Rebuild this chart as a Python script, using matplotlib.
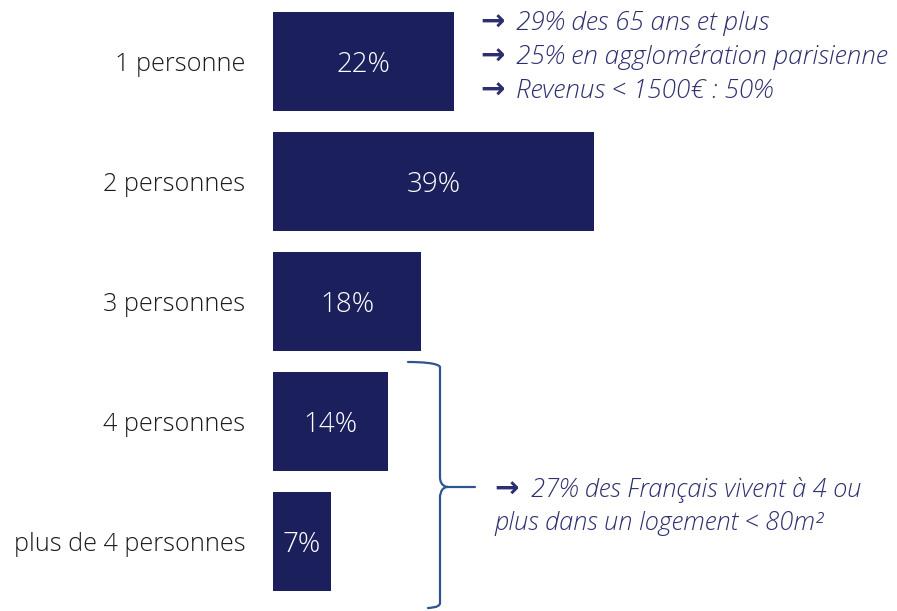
import matplotlib.pyplot as plt
from matplotlib.path import Path
from matplotlib.patches import PathPatch

# Taille des ménages (part des Français)
categories = ["1 personne", "2 personnes", "3 personnes", "4 personnes", "plus de 4 personnes"]
valeurs = [22, 39, 18, 14, 7]
etiquettes = ["22%", "39%", "18%", "14%", "7%"]

notes_haut = ["29% des 65 ans et plus",
              "25% en agglomération parisienne",
              "Revenus < 1500€ : 50%"]
note_bas = ["27% des Français vivent à 4 ou", "plus dans un logement < 80m²"]

BLEU = "#1b1f5c"
TEXTE = "#2b2f6e"
ACCOLADE = "#2f5590"

plt.rcParams['font.family'] = ['Open Sans', 'DejaVu Sans']

W, H = 897, 611
fig = plt.figure(figsize=(W / 100, H / 100), dpi=100)
x0 = 273
ax = fig.add_axes([x0 / W, 0, 1 - x0 / W, 1])

pos = list(range(len(categories)))
ax.barh(pos, valeurs, height=0.825, color=BLEU)
for p, v, e in zip(pos, valeurs, etiquettes):
    ax.text(v / 2, p + 0.03, e, color="white", ha="center", va="center",
            fontsize=20, fontweight="light")

ax.set_xlim(0, (W - x0) / 8.23)
ax.set_ylim(4 + (H - 541.5) / 120, -61.5 / 120)
ax.set_yticks(pos)
ax.set_yticklabels(categories, fontsize=18.2, fontweight="light", color="#1a1a1a")
ax.tick_params(axis="y", length=0, pad=20)
ax.set_xticks([])
for s in ax.spines.values():
    s.set_visible(False)


def px(x, y):
    return (x / W, 1 - y / H)


def fleche(x, y):
    # flèche en début de note
    fig.text(*px(x, y), "→", color=TEXTE, fontsize=21, fontweight="bold",
             va="center", ha="left", family="DejaVu Sans")


# Notes à droite de la première barre
for i, t in enumerate(notes_haut):
    y = 23 + i * 34
    fleche(480, y)
    fig.text(*px(516, y), t, color=TEXTE, fontsize=18.8, style="italic",
             fontweight="light", va="center", ha="left")

# Accolade
pts = [(408, 362), (440, 362), (440, 367), (440, 367),
       (440, 477),
       (440, 487), (448, 487), (448, 487),
       (475, 487),
       (448, 487),
       (440, 487), (440, 497), (440, 497),
       (440, 603),
       (440, 608), (428, 608), (428, 608)]
codes = [Path.MOVETO, Path.CURVE4, Path.CURVE4, Path.CURVE4,
         Path.LINETO,
         Path.CURVE4, Path.CURVE4, Path.CURVE4,
         Path.LINETO,
         Path.MOVETO,
         Path.CURVE4, Path.CURVE4, Path.CURVE4,
         Path.LINETO,
         Path.CURVE4, Path.CURVE4, Path.CURVE4]
chemin = Path([px(x, y) for x, y in pts], codes)
fig.add_artist(PathPatch(chemin, transform=fig.transFigure, fill=False,
                         edgecolor=ACCOLADE, lw=1.6, capstyle="round"))

fleche(494, 490)
fig.text(*px(531, 490), note_bas[0], color=TEXTE, fontsize=18.3, style="italic",
         fontweight="light", va="center", ha="left")
fig.text(*px(494, 524), note_bas[1], color=TEXTE, fontsize=18.3, style="italic",
         fontweight="light", va="center", ha="left")

fig.savefig("out.png", dpi=100)
